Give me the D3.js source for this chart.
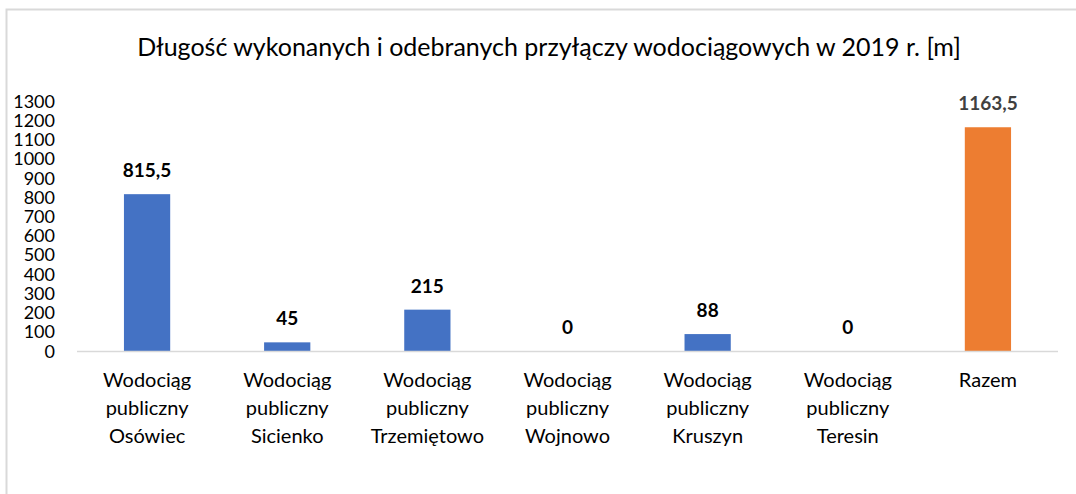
<!DOCTYPE html>
<html>
<head>
<meta charset="utf-8">
<script src="https://cdn.jsdelivr.net/npm/d3@7"></script>
<style>
  body { margin: 0; background: #fff; }
  svg text { font-family: Lato, "Open Sans", sans-serif; }
</style>
</head>
<body>
<svg id="chart" width="1076" height="494"></svg>
<script>
// values
var categories = [
  ["Wodociąg", "publiczny", "Osówiec"],
  ["Wodociąg", "publiczny", "Sicienko"],
  ["Wodociąg", "publiczny", "Trzemiętowo"],
  ["Wodociąg", "publiczny", "Wojnowo"],
  ["Wodociąg", "publiczny", "Kruszyn"],
  ["Wodociąg", "publiczny", "Teresin"],
  ["Razem"]
];
var values = [815.5, 45, 215, 0, 88, 0, 1163.5];
var labels = ["815,5", "45", "215", "0", "88", "0", "1163,5"];
var yTicks = d3.range(0, 1301, 100);
var title = "Długość wykonanych i odebranych przyłączy wodociągowych w 2019 r. [m]";

var svg = d3.select("#chart");

// outer frame of the chart area
svg.append("rect")
    .attr("x", 6.5).attr("y", 9.5)
    .attr("width", 1100).attr("height", 520)
    .attr("fill", "#fff")
    .attr("stroke", "#d9d9d9")
    .attr("stroke-width", 2);

svg.append("text")
    .attr("x", 549).attr("y", 56)
    .attr("text-anchor", "middle")
    .attr("font-size", 25)
    .attr("fill", "#000")
    .text(title);

var m = {left: 77, right: 1058, top: 101, bottom: 351};

var x = d3.scaleBand()
    .domain(d3.range(values.length))
    .range([m.left, m.right])
    .paddingInner(0.67)
    .paddingOuter(0.335);

var y = d3.scaleLinear().domain([0, 1300]).range([m.bottom, m.top]);

// y axis labels only (no axis line, no ticks)
var yAxis = svg.append("g")
    .attr("transform", "translate(" + (m.left - 22) + ",0)")
    .call(d3.axisLeft(y).tickValues(yTicks).tickFormat(d3.format("d")).tickSize(0).tickPadding(0));
yAxis.select(".domain").remove();
yAxis.selectAll("text")
    .attr("font-family", "Lato, sans-serif")
    .attr("font-size", 18)
    .attr("dy", "0.34em")
    .attr("fill", "#000");

// bars
svg.selectAll("rect.bar")
    .data(values)
  .enter().append("rect")
    .attr("class", "bar")
    .attr("x", function(d, i) { return x(i); })
    .attr("width", x.bandwidth())
    .attr("y", function(d) { return y(d); })
    .attr("height", function(d) { return y(0) - y(d); })
    .attr("fill", function(d, i) { return i == values.length - 1 ? "#ed7d31" : "#4472c4"; });

// baseline
svg.append("line")
    .attr("x1", m.left).attr("x2", m.right)
    .attr("y1", m.bottom + 0.5).attr("y2", m.bottom + 0.5)
    .attr("stroke", "#d9d9d9")
    .attr("stroke-width", 1.5);

// value labels
svg.selectAll("text.val")
    .data(values)
  .enter().append("text")
    .attr("class", "val")
    .attr("x", function(d, i) { return x(i) + x.bandwidth() / 2; })
    .attr("y", function(d) { return y(d) - 17; })
    .attr("text-anchor", "middle")
    .attr("font-size", 19)
    .attr("font-weight", "bold")
    .attr("fill", function(d, i) { return i == values.length - 1 ? "#404040" : "#000"; })
    .text(function(d, i) { return labels[i]; });

// category labels
var cat = svg.selectAll("text.cat")
    .data(categories)
  .enter().append("text")
    .attr("class", "cat")
    .attr("text-anchor", "middle")
    .attr("font-size", 20)
    .attr("fill", "#000")
    .attr("transform", function(d, i) {
      return "translate(" + (x(i) + x.bandwidth() / 2) + ",387)";
    });
cat.selectAll("tspan")
    .data(function(d) { return d; })
  .enter().append("tspan")
    .attr("x", 0)
    .attr("y", function(d, j) { return j * 28; })
    .text(function(d) { return d; });
</script>
</body>
</html>
